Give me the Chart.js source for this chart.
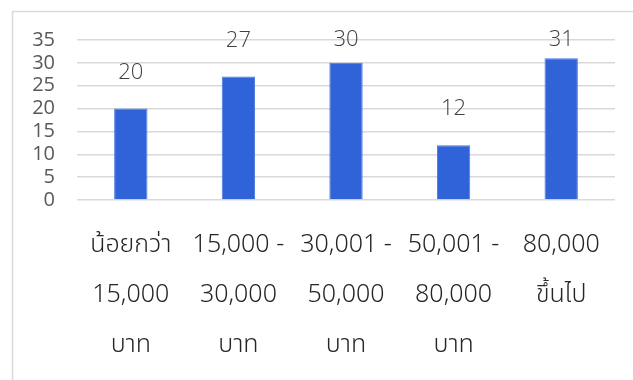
<!DOCTYPE html>
<html>
<head>
<meta charset="utf-8">
<script src="https://cdn.jsdelivr.net/npm/chart.js@4/dist/chart.umd.min.js"></script>
<style>
  html, body { margin: 0; padding: 0; background: #ffffff; }
  #wrap { position: relative; width: 633px; height: 380px; }
</style>
</head>
<body>
<div id="wrap"><canvas id="c" width="633" height="380"></canvas></div>
<script>
// Income bands (Thai baht), each split into the lines shown under its bar
const categories = [
  ['น้อยกว่า', '15,000', 'บาท'],
  ['15,000 -', '30,000', 'บาท'],
  ['30,001 -', '50,000', 'บาท'],
  ['50,001 -', '80,000', 'บาท'],
  ['80,000', 'ขึ้นไป']
];
// Number of respondents in each band
const counts = [20, 27, 30, 12, 31];
// Value axis ticks
const yTicks = [0, 5, 10, 15, 20, 25, 30, 35];

const thaiFont = '"Noto Sans Thai", "Noto Sans", "Liberation Sans", sans-serif';
const numFont = '"Open Sans", "Noto Sans", sans-serif';

// Light frame around the whole chart
const framePlugin = {
  id: 'frame',
  beforeDraw(chart) {
    const ctx = chart.ctx;
    ctx.save();
    ctx.strokeStyle = '#d9d9d9';
    ctx.lineWidth = 1.5;
    ctx.beginPath();
    ctx.moveTo(12.5, chart.height + 2);
    ctx.lineTo(12.5, 11.5);
    ctx.lineTo(chart.width + 2, 11.5);
    ctx.stroke();
    ctx.restore();
  }
};

// Value written above each bar, kept inside the plot area
const valueLabels = {
  id: 'valueLabels',
  afterDatasetsDraw(chart) {
    const ctx = chart.ctx;
    const meta = chart.getDatasetMeta(0);
    const area = chart.chartArea;
    ctx.save();
    ctx.font = '300 22px ' + numFont;
    ctx.fillStyle = '#404040';
    ctx.textAlign = 'center';
    ctx.textBaseline = 'middle';
    meta.data.forEach((bar, i) => {
      const y = Math.max(bar.y - 36, area.top);
      ctx.fillText(String(counts[i]), bar.x, y);
    });
    ctx.restore();
  }
};

new Chart(document.getElementById('c'), {
  type: 'bar',
  data: {
    labels: categories,
    datasets: [{
      data: counts,
      backgroundColor: '#2f63d7',
      borderColor: '#4a78df',
      borderWidth: 1,
      categoryPercentage: 1,
      barPercentage: 0.31
    }]
  },
  options: {
    responsive: false,
    animation: false,
    events: [],
    layout: { padding: { top: 40, right: 18, left: 0, bottom: 0 } },
    plugins: {
      legend: { display: false },
      tooltip: { enabled: false }
    },
    scales: {
      x: {
        grid: { display: false, drawTicks: false },
        border: { display: false },
        ticks: {
          color: '#262626',
          font: { family: thaiFont, size: 25, weight: 300, lineHeight: 50 / 25 },
          padding: 22,
          maxRotation: 0,
          autoSkip: false
        },
        afterFit(scale) { scale.height = 180; }
      },
      y: {
        min: 0,
        max: 35,
        afterBuildTicks(scale) { scale.ticks = yTicks.map(v => ({ value: v })); },
        grid: { color: '#d9d9d9', lineWidth: 1.5, drawTicks: false },
        border: { display: false },
        ticks: {
          color: '#595959',
          font: { family: numFont, size: 20 },
          padding: 22,
          autoSkip: false
        },
        afterFit(scale) { scale.width = 77; }
      }
    }
  },
  plugins: [framePlugin, valueLabels]
});
</script>
</body>
</html>
